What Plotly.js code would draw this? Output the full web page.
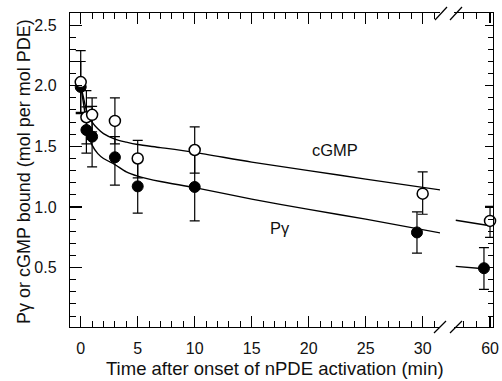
<!DOCTYPE html>
<html><head><meta charset="utf-8">
<script src="https://cdn.plot.ly/plotly-3.0.1.min.js"></script>
<style>html,body{margin:0;padding:0;background:#fff}#c{width:502px;height:381px}</style>
</head><body><div id="c"></div>
<script>
// open circles: cGMP bound
const cgmpX = [0, 0.5, 1, 3, 5, 10, 30];
const cgmpY = [2.03, 1.74, 1.76, 1.71, 1.40, 1.47, 1.11];
const cgmpErrPlus = [0.26, 0.22, 0.14, 0.19, 0.15, 0.19, 0.18];
const cgmpErrMinus = [0.26, 0.22, 0.14, 0.19, 0.16, 0.19, 0.17];
const cgmpLateX = [60];
const cgmpLateY = [0.885];
const cgmpLateErrPlus = [0.12];
const cgmpLateErrMinus = [0.135];
// filled circles: Pγ bound
const pgX = [0, 0.5, 1, 3, 5, 10, 29.5];
const pgY = [1.99, 1.635, 1.58, 1.41, 1.17, 1.165, 0.79];
const pgErrPlus = [0.21, 0.19, 0.25, 0.17, 0.22, 0.28, 0.17];
const pgErrMinus = [0.21, 0.19, 0.25, 0.23, 0.22, 0.28, 0.17];
const pgLateX = [59.55];
const pgLateY = [0.495];
const pgLateErrPlus = [0.17];
const pgLateErrMinus = [0.175];
// fitted curves
const fitX = [0, 0.25, 0.5, 0.75, 1, 1.5, 2, 3, 4, 5, 7, 10, 15, 20, 25, 31.6];
const fitCgmpY = [2.0, 1.90, 1.80, 1.75, 1.70, 1.645, 1.605, 1.56, 1.535, 1.515, 1.49, 1.45, 1.37, 1.30, 1.23, 1.14];
const fitPgY = [2.0, 1.85, 1.70, 1.58, 1.51, 1.44, 1.40, 1.35, 1.29, 1.255, 1.21, 1.16, 1.065, 0.98, 0.90, 0.785];
const fitLateX = [57.46, 60];
const fitLateCgmpY = [0.89, 0.845];
const fitLatePgX = [57.46, 59.55];
const fitLatePgY = [0.51, 0.49];
// tick labels
const xTickVals = [0, 5, 10, 15, 20, 25, 30];
const xTickText = ['0', '5', '10', '15', '20', '25', '30'];
const x2TickVals = [60];
const x2TickText = ['60'];

const lineSty = {color: '#000', width: 1.4};
const eb = (p, m) => ({type: 'data', symmetric: false, array: p, arrayminus: m, color: '#000', thickness: 1.2, width: 5});
const filledM = {color: '#000', size: 11, line: {color: '#000', width: 1}};
const openM = {color: '#fff', size: 11, line: {color: '#000', width: 1.5}};

const traces = [
  {x: fitX, y: fitCgmpY, mode: 'lines', line: Object.assign({shape: 'spline', smoothing: 0.8}, lineSty), xaxis: 'x', yaxis: 'y', hoverinfo: 'skip'},
  {x: fitX, y: fitPgY, mode: 'lines', line: Object.assign({shape: 'spline', smoothing: 0.8}, lineSty), xaxis: 'x', yaxis: 'y', hoverinfo: 'skip'},
  {x: fitLateX, y: fitLateCgmpY, mode: 'lines', line: lineSty, xaxis: 'x2', yaxis: 'y2'},
  {x: fitLatePgX, y: fitLatePgY, mode: 'lines', line: lineSty, xaxis: 'x2', yaxis: 'y2'},
  {x: pgX, y: pgY, mode: 'markers', marker: filledM, error_y: eb(pgErrPlus, pgErrMinus), xaxis: 'x', yaxis: 'y', cliponaxis: false},
  {x: cgmpX, y: cgmpY, mode: 'markers', marker: openM, error_y: eb(cgmpErrPlus, cgmpErrMinus), xaxis: 'x', yaxis: 'y', cliponaxis: false},
  {x: pgLateX, y: pgLateY, mode: 'markers', marker: filledM, error_y: eb(pgLateErrPlus, pgLateErrMinus), xaxis: 'x2', yaxis: 'y2', cliponaxis: false},
  {x: cgmpLateX, y: cgmpLateY, mode: 'markers', marker: openM, error_y: eb(cgmpLateErrPlus, cgmpLateErrMinus), xaxis: 'x2', yaxis: 'y2', cliponaxis: false}
];

const font = {family: '"Liberation Sans", Arial, sans-serif', size: 16, color: '#111'};
const yRange = [0.01, 2.6];
const W = 423, H = 314; // plot area px
const px = v => (v - 70) / W;
const py = v => (327 - v) / H;

const commonX = {
  showline: true, linecolor: '#000', linewidth: 1.2, mirror: 'ticks',
  ticks: 'inside', ticklen: 11, tickwidth: 1.2, tickcolor: '#000',
  minor: {dtick: 1, ticks: 'inside', ticklen: 6, tickwidth: 1, tickcolor: '#000'},
  showgrid: false, zeroline: false, fixedrange: true, ticklabelstandoff: 7,
  tickfont: font
};

const layout = {
  width: 502, height: 381,
  margin: {l: 70, r: 9, t: 13, b: 54},
  paper_bgcolor: '#fff', plot_bgcolor: '#fff',
  showlegend: false, font: font,
  xaxis: Object.assign({}, commonX, {domain: [0, px(440)], range: [-0.94, 31.52], anchor: 'y',
    tickmode: 'array', tickvals: xTickVals, ticktext: xTickText}),
  xaxis2: Object.assign({}, commonX, {domain: [px(454), 1], range: [57.33, 60.22], anchor: 'y2',
    tickmode: 'array', tickvals: x2TickVals, ticktext: x2TickText, ticklen: 10}),
  yaxis: {range: yRange, anchor: 'x', side: 'left', showline: true, linecolor: '#000', linewidth: 1.2,
    ticks: 'inside', ticklen: 12, tickwidth: 1.2, tickcolor: '#000', tick0: 0, dtick: 0.5, tickformat: '.1f',
    minor: {dtick: 0.1, ticks: 'inside', ticklen: 6, tickwidth: 1, tickcolor: '#000'},
    showgrid: false, zeroline: false, fixedrange: true, ticklabelstandoff: 9, tickfont: font},
  yaxis2: {range: yRange, anchor: 'x2', side: 'right', showline: true, linecolor: '#000', linewidth: 1.2,
    ticks: 'inside', ticklen: 8, tickwidth: 1.2, tickcolor: '#000', tick0: 0, dtick: 0.5, showticklabels: false,
    minor: {dtick: 0.1, ticks: 'inside', ticklen: 5, tickwidth: 1, tickcolor: '#000'},
    showgrid: false, zeroline: false, fixedrange: true},
  annotations: [
    {text: 'cGMP', x: 22.3, y: 1.47, xref: 'x', yref: 'y', showarrow: false, font: Object.assign({}, font, {size: 16.5})},
    {text: 'Pγ', x: 17.5, y: 0.83, xref: 'x', yref: 'y', showarrow: false, font: Object.assign({}, font, {size: 16.5})},
    {text: 'Time after onset of nPDE activation (min)', xref: 'paper', yref: 'paper', x: px(274.5), y: py(368),
      xanchor: 'center', yanchor: 'middle', showarrow: false, font: Object.assign({}, font, {size: 18.5})},
    {text: 'Pγ or cGMP bound (mol per mol PDE)', xref: 'paper', yref: 'paper', x: px(24), y: py(172),
      xanchor: 'center', yanchor: 'middle', textangle: -90, showarrow: false, font: Object.assign({}, font, {size: 18})}
  ],
  shapes: [
    {type: 'line', xref: 'paper', yref: 'paper', x0: px(435), y0: py(20), x1: px(447), y1: py(7), line: {color: '#000', width: 1.2}},
    {type: 'line', xref: 'paper', yref: 'paper', x0: px(450), y0: py(20), x1: px(462), y1: py(7), line: {color: '#000', width: 1.2}},
    {type: 'line', xref: 'paper', yref: 'paper', x0: px(434), y0: py(333), x1: px(446), y1: py(321), line: {color: '#000', width: 1.2}},
    {type: 'line', xref: 'paper', yref: 'paper', x0: px(450), y0: py(333), x1: px(462), y1: py(321), line: {color: '#000', width: 1.2}}
  ]
};

Plotly.newPlot('c', traces, layout, {staticPlot: true, displayModeBar: false});
</script></body></html>
